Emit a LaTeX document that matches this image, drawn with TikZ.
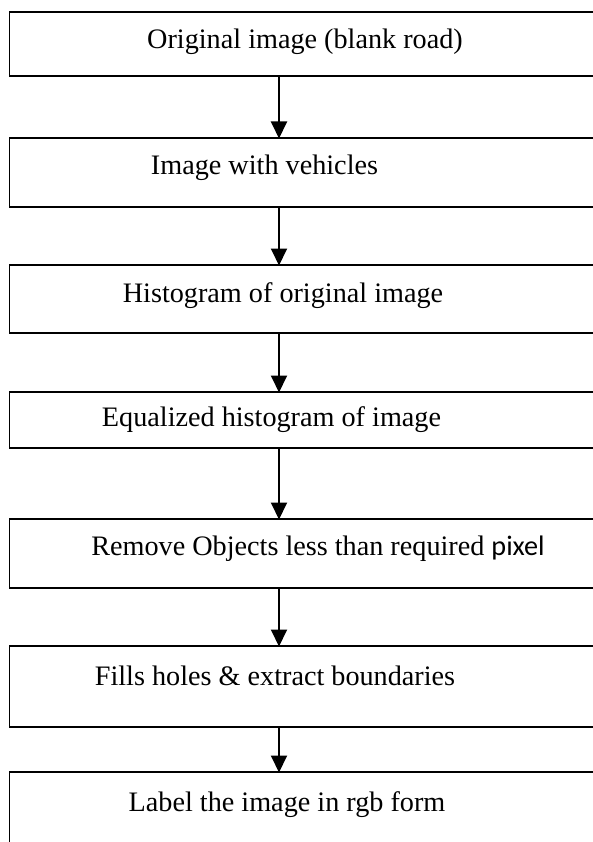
\documentclass[tikz,border=0pt]{standalone}
\usepackage{fontspec}
\setmainfont{Liberation Serif}
\newfontfamily\pixfont{Carlito}
\usetikzlibrary{arrows.meta}
\tikzset{
  stepbox/.style={draw=black, line width=1.6pt, rectangle, inner sep=0pt, outer sep=0pt, minimum width=600pt},
  steptext/.style={font=\fontsize{28.2}{30}\selectfont, inner sep=0pt, anchor=center},
  flow/.style={line width=1.9pt, -{Triangle[width=16pt,length=17pt]}, shorten >=-0.5pt}
}
\begin{document}
\begin{tikzpicture}[x=1pt,y=-1pt]
\useasboundingbox (0,0) rectangle (593,842);
\clip (0,0) rectangle (593,842);
\fill[white] (0,0) rectangle (593,842);
% boxes: left at 9.5, right beyond the page
\node[stepbox, minimum height=64pt] (b1) at (309.5,44) {};
\node[stepbox, minimum height=69pt] (b2) at (309.5,172.5) {};
\node[stepbox, minimum height=68pt] (b3) at (309.5,299) {};
\node[stepbox, minimum height=56pt] (b4) at (309.5,420) {};
\node[stepbox, minimum height=69pt] (b5) at (309.5,553.5) {};
\node[stepbox, minimum height=81pt] (b6) at (309.5,686.5) {};
\node[stepbox, minimum height=100pt] (b7) at (309.5,822) {};
% texts
\node[steptext] (t1) at (305,42) {Original image (blank road)};
\node[steptext] (t2) at (264.5,168) {Image with vehicles};
\node[steptext] (t3) at (283,296) {Histogram of original image};
\node[steptext] (t4) at (271.5,420) {Equalized histogram of image};
\node[steptext] (t5) at (318,549) {Remove Objects less than required {\pixfont pixel}};
\node[steptext] (t6) at (275,676) {Fills holes \& extract boundaries};
\node[steptext] (t7) at (287,805) {Label the image in rgb form};
% connectors
\draw[flow] (b1.south -| 279,0) -- (b2.north -| 279,0);
\draw[flow] (b2.south -| 279,0) -- (b3.north -| 279,0);
\draw[flow] (b3.south -| 279,0) -- (b4.north -| 279,0);
\draw[flow] (b4.south -| 279,0) -- (b5.north -| 279,0);
\draw[flow] (b5.south -| 279,0) -- (b6.north -| 279,0);
\draw[flow] (b6.south -| 279,0) -- (b7.north -| 279,0);
\end{tikzpicture}
\end{document}
